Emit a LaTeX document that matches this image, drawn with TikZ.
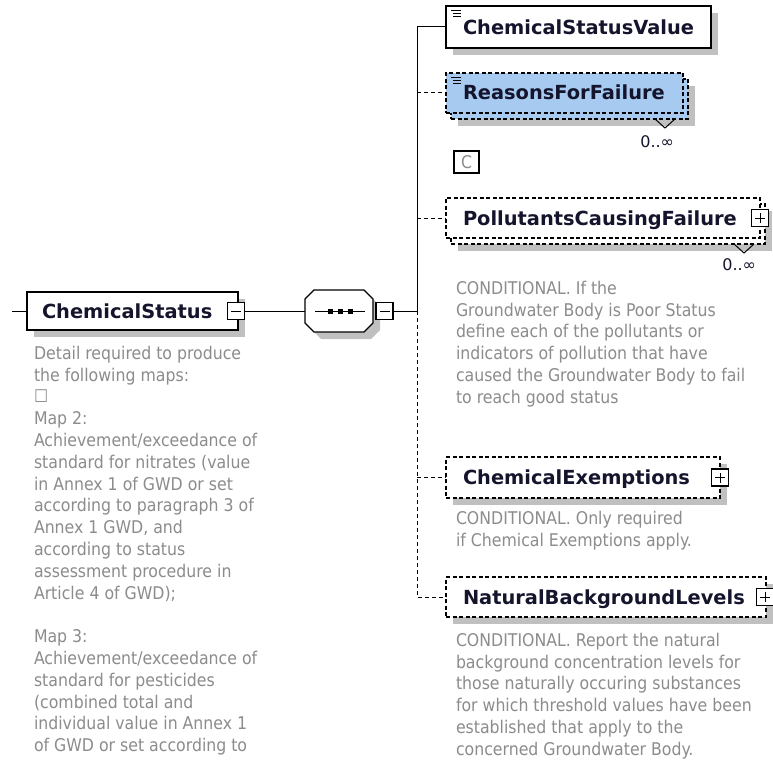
\documentclass[tikz,border=0pt]{standalone}
\usepackage{fontspec}
\setmainfont{DejaVu Sans}
\newfontfamily\notefont{DejaVu Sans Condensed}
\usetikzlibrary{shadows}
\definecolor{shadowgray}{RGB}{192,192,192}
\definecolor{elemblue}{RGB}{166,202,240}
\definecolor{notegray}{RGB}{140,140,140}
\definecolor{titleink}{RGB}{20,20,45}
\begin{document}
\begin{tikzpicture}[
  x=1pt, y=-1pt,
  every node/.style={inner sep=0pt, outer sep=0pt},
  boxshadow/.style={drop shadow={shadow xshift=7pt, shadow yshift=-7pt, fill=shadowgray, opacity=1}},
  elembox/.style={draw=black, line width=1.4pt, fill=white, anchor=north west},
  optbox/.style={draw=black, line width=1.1pt, dash pattern=on 4pt off 2.5pt, fill=white, anchor=north west},
  title/.style={anchor=base west, font=\fontsize{19.4}{23}\selectfont\bfseries, text=titleink},
  note/.style={anchor=north west, align=left, text=notegray, font=\notefont\fontsize{17.5}{21.8}\selectfont},
  occurs/.style={anchor=base east, font=\fontsize{16}{20}\selectfont, text=titleink},
  wire/.style={line width=1pt},
  optwire/.style={line width=1pt, dash pattern=on 4pt off 3pt},
  btn/.style={draw=black, line width=1.1pt, fill=white, minimum size=17pt},
  minusbtn/.style={btn, path picture={\draw[line width=1pt] ([xshift=3.5pt]path picture bounding box.west) -- ([xshift=-3.5pt]path picture bounding box.east);}},
  plusbtn/.style={btn, path picture={
      \draw[line width=1pt] ([xshift=3.5pt]path picture bounding box.west) -- ([xshift=-3.5pt]path picture bounding box.east);
      \draw[line width=1pt] ([yshift=3.5pt]path picture bounding box.south) -- ([yshift=-3.5pt]path picture bounding box.north);}},
  listicon/.style={line width=0.9pt},
]
\useasboundingbox (0,0) rectangle (773,762);
\fill[white] (0,0) rectangle (773,762);

% ---------- root element ----------
\node[elembox, boxshadow, minimum width=211pt, minimum height=38pt] (cs) at (27,292) {};
\node[title] (csT) at (42,318) {ChemicalStatus};
\node[minusbtn] (csB) at (236,311) {};
\coordinate (rootin) at (12,311);
\draw[wire] (rootin) -- (cs.west);

\node[note] (csN) at (34,344) {\strut Detail required to produce\\
the following maps:\\
☐\\
Map 2:\\
Achievement/exceedance of\\
standard for nitrates (value\\
in Annex 1 of GWD or set\\
according to paragraph 3 of\\
Annex 1 GWD, and\\
according to status\\
assessment procedure in\\
Article 4 of GWD);\\
\strut\\
Map 3:\\
Achievement/exceedance of\\
standard for pesticides\\
(combined total and\\
individual value in Annex 1\\
of GWD or set according to};

% ---------- sequence compositor ----------
\node[minimum width=68pt, minimum height=42pt] (seq) at (339,311) {};
\begin{scope}[shift={(7,7)}]
  \fill[shadowgray] (314,290) -- (364,290) -- (373,299) -- (373,323) -- (364,332) -- (314,332) -- (305,323) -- (305,299) -- cycle;
\end{scope}
\draw[line width=1.3pt, fill=white] (314,290) -- (364,290) -- (373,299) -- (373,323) -- (364,332) -- (314,332) -- (305,323) -- (305,299) -- cycle;
\draw[wire] (315,311) -- (365,311);
\foreach \sx in {330,340,350} \fill (\sx-2.5,308.5) rectangle (\sx+2.5,313.5);
\node[minusbtn] (seqB) at (384.5,311) {};
\draw[wire] (csB.east) -- (seq.west);
\coordinate (trunk) at (417,311);
\draw[wire] (seqB.east) -- (trunk);

% ---------- ChemicalStatusValue ----------
\node[elembox, boxshadow, minimum width=265pt, minimum height=42pt] (csv) at (446,6) {};
\node[title] (csvT) at (463,34.5) {ChemicalStatusValue};
\draw[listicon] ([shift={(5,4)}]csv.north west) -- ++(10,0);
\draw[listicon] ([shift={(7,7)}]csv.north west) -- ++(8,0);
\draw[listicon] ([shift={(7,10)}]csv.north west) -- ++(8,0);

% ---------- ReasonsForFailure (0..unbounded) ----------
\node[optbox, boxshadow, fill=elemblue, minimum width=237pt, minimum height=40pt] (rffBack) at (451,79) {};
\node[optbox, fill=elemblue, minimum width=237pt, minimum height=40pt] (rff) at (446,73) {};
\node[title] (rffT) at (463,99.5) {ReasonsForFailure};
\draw[listicon] ([shift={(5,4)}]rff.north west) -- ++(10,0);
\draw[listicon] ([shift={(7,7)}]rff.north west) -- ++(8,0);
\draw[listicon] ([shift={(7,10)}]rff.north west) -- ++(8,0);
\draw[line width=1pt] ([xshift=-13pt]rffBack.south east) -- ++(-10,9) -- ++(-10,-9);
\node[occurs] (rffO) at (674,148) {0..∞};

\node[draw=black, line width=1.2pt, minimum width=25pt, minimum height=22pt, anchor=north west,
      text=notegray, font=\notefont\fontsize{17.5}{20}\selectfont] (choice) at (454,151) {C};

% ---------- PollutantsCausingFailure (0..unbounded) ----------
\node[optbox, boxshadow, minimum width=314pt, minimum height=40pt] (pcfBack) at (451,204) {};
\node[optbox, minimum width=314pt, minimum height=40pt] (pcf) at (446,198) {};
\node[title] (pcfT) at (463,225.5) {PollutantsCausingFailure};
\node[plusbtn] (pcfB) at (760,218) {};
\draw[line width=1pt] ([xshift=-11pt]pcfBack.south east) -- ++(-10,9) -- ++(-10,-9);
\node[occurs] (pcfO) at (756,270) {0..∞};
\node[note] (pcfN) at (456,279) {\strut CONDITIONAL. If the\\
Groundwater Body is Poor Status\\
define each of the pollutants or\\
indicators of pollution that have\\
caused the Groundwater Body to fail\\
to reach good status};

% ---------- ChemicalExemptions ----------
\node[optbox, boxshadow, minimum width=274pt, minimum height=41pt] (cex) at (446,457) {};
\node[title] (cexT) at (463,484.5) {ChemicalExemptions};
\node[plusbtn] (cexB) at (720,477.5) {};
\node[note] (cexN) at (456,509) {\strut CONDITIONAL. Only required\\
if Chemical Exemptions apply.};

% ---------- NaturalBackgroundLevels ----------
\node[optbox, boxshadow, minimum width=320pt, minimum height=40pt] (nbl) at (446,577) {};
\node[title] (nblT) at (463,604.5) {NaturalBackgroundLevels};
\node[plusbtn] (nblB) at (765,597) {};
\node[note] (nblN) at (456,631) {\strut CONDITIONAL. Report the natural\\
background concentration levels for\\
those naturally occuring substances\\
for which threshold values have been\\
established that apply to the\\
concerned Groundwater Body.};

% ---------- connectors from the sequence ----------
\draw[wire] (csv.west) -| (trunk);
\draw[optwire] (trunk |- rff.west) -- (rff.west);
\draw[optwire] (trunk |- pcf.west) -- (pcf.west);
\draw[optwire] (trunk) -- (trunk |- nbl.west) -- (nbl.west);
\draw[optwire] (trunk |- cex.west) -- (cex.west);
\end{tikzpicture}
\end{document}
